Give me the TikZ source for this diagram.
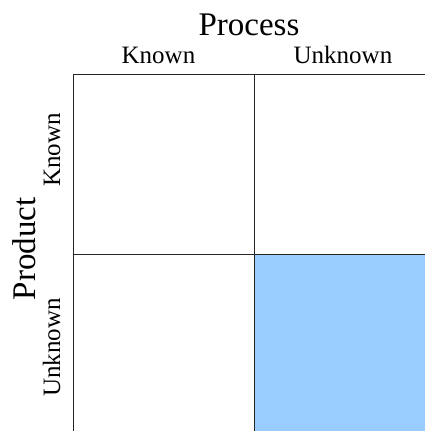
\documentclass[tikz,border=0pt]{standalone}
\usepackage{fontspec}
\setmainfont{Liberation Serif}
\definecolor{cellblue}{RGB}{153,204,255}
\begin{document}
\begin{tikzpicture}[x=1pt,y=-1pt,
  title/.style={font=\fontsize{33}{33}\selectfont, anchor=base, inner sep=0pt},
  sublabel/.style={font=\fontsize{25}{25}\selectfont, anchor=base, inner sep=0pt},
  gridline/.style={line width=1pt, draw=black!85}]
\useasboundingbox (0,0) rectangle (425,431);
% grid corners
\coordinate (tl) at (73.5,74);
\coordinate (tr) at (425,74);
\coordinate (tm) at (254,74);
\coordinate (ml) at (73.5,254.5);
\coordinate (mm) at (254,254.5);
\coordinate (mr) at (425,254.5);
\coordinate (bl) at (73.5,431);
\coordinate (bm) at (254,431);
\coordinate (br) at (425,431);
% highlighted quadrant
\fill[cellblue] (mm) rectangle (br);
% grid lines
\draw[gridline] (tl) -- (tr);
\draw[gridline] (ml) -- (mr);
\draw[gridline] (tl) -- (bl);
\draw[gridline] (tm) -- (bm);
% axis titles and categories
\node[title] (process) at (249,35) {Process};
\node[sublabel] (pknown) at (158.5,63) {Known};
\node[sublabel] (punknown) at (343,63) {Unknown};
\node[title, rotate=90] (product) at (35,249) {Product};
\node[sublabel, rotate=90] (rknown) at (60,150) {Known};
\node[sublabel, rotate=90] (runknown) at (60,347.5) {Unknown};
\end{tikzpicture}
\end{document}
